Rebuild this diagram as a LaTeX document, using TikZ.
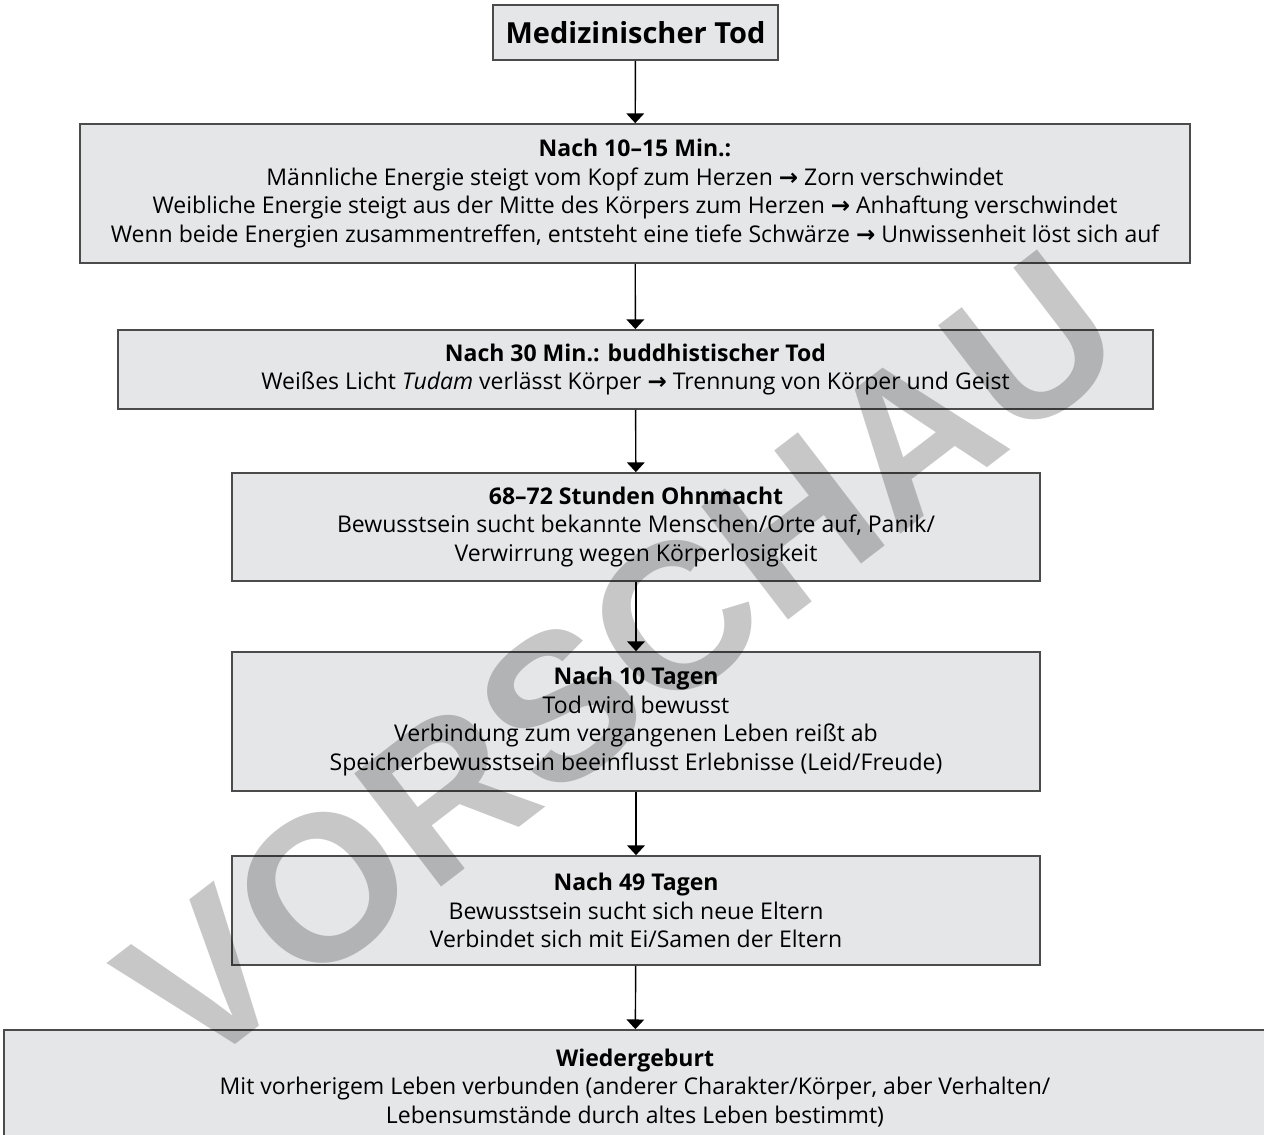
\documentclass[tikz,border=0pt]{standalone}
\usepackage{fontspec}
\setmainfont{Open Sans}
\newfontfamily\arrowfont{DejaVu Sans}
\newfontfamily\markfont{Liberation Sans}
\usetikzlibrary{arrows.meta}
\definecolor{boxgray}{RGB}{229,230,232}
\definecolor{edgegray}{RGB}{75,75,75}
\newcommand{\pfeil}{{\arrowfont\bfseries →}}
\tikzset{
  stage/.style = {align=center, inner sep=0pt, draw=edgegray, line width=1pt, fill=boxgray,
                  font=\fontsize{13.1}{16.4}\selectfont},
  startbox/.style = {stage, font=\fontsize{16.5}{20}\selectfont\bfseries},
  flow/.style = {-{Triangle[width=10pt,length=5.5pt]}, line width=0.8pt, black},
  watermark/.style = {font=\markfont\fontsize{118}{118}\selectfont\bfseries, text=black, text opacity=0.22}
}

\begin{document}
\begin{tikzpicture}[x=0.02cm, y=-0.02cm]
  \useasboundingbox (0,0) rectangle (1264,1135);
  % stages
  \node [startbox, minimum width=5.7cm, minimum height=1.1cm] (tod) at (635.5,32.5) {Medizinischer Tod};
  \node [stage, minimum width=22.2cm, minimum height=2.78cm] (min15) at (635,193.5)
    {\textbf{Nach 10--15 Min.:}\\
     Männliche Energie steigt vom Kopf zum Herzen \pfeil\ Zorn verschwindet\\
     Weibliche Energie steigt aus der Mitte des Körpers zum Herzen \pfeil\ Anhaftung verschwindet\\
     Wenn beide Energien zusammentreffen, entsteht eine tiefe Schwärze \pfeil\ Unwissenheit löst sich auf};
  \node [stage, minimum width=20.7cm, minimum height=1.58cm] (min30) at (635.5,369.5)
    {\textbf{Nach 30 Min.: buddhistischer Tod}\\
     Weißes Licht \textit{Tudam} verlässt Körper \pfeil\ Trennung von Körper und Geist};
  \node [stage, minimum width=16.16cm, minimum height=2.16cm] (ohnmacht) at (636,527)
    {\textbf{68--72 Stunden Ohnmacht}\\
     Bewusstsein sucht bekannte Menschen/Orte auf, Panik/\\
     Verwirrung wegen Körperlosigkeit};
  \node [stage, minimum width=16.16cm, minimum height=2.78cm] (tag10) at (636,721.5)
    {\textbf{Nach 10 Tagen}\\
     Tod wird bewusst\\
     Verbindung zum vergangenen Leben reißt ab\\
     Speicherbewusstsein beeinflusst Erlebnisse (Leid/Freude)};
  \node [stage, minimum width=16.16cm, minimum height=2.18cm] (tag49) at (636,910.5)
    {\textbf{Nach 49 Tagen}\\
     Bewusstsein sucht sich neue Eltern\\
     Verbindet sich mit Ei/Samen der Eltern};
  \node [stage, minimum width=25.24cm, minimum height=2.32cm] (geburt) at (635,1088)
    {\textbf{Wiedergeburt}\\
     Mit vorherigem Leben verbunden (anderer Charakter/Körper, aber Verhalten/\\
     Lebensumstände durch altes Leben bestimmt)};
  % arrows
  \draw [flow] (tod) -- (min15);
  \draw [flow] (min15) -- (min30);
  \draw [flow] (min30) -- (ohnmacht);
  \draw [flow] (ohnmacht) -- (tag10);
  \draw [flow] (tag10) -- (tag49);
  \draw [flow] (tag49) -- (geburt);
  % preview stamp
  \node [watermark, rotate=37.5] (vorschau) at (620,660) {VORSCHAU};
\end{tikzpicture}
\end{document}
